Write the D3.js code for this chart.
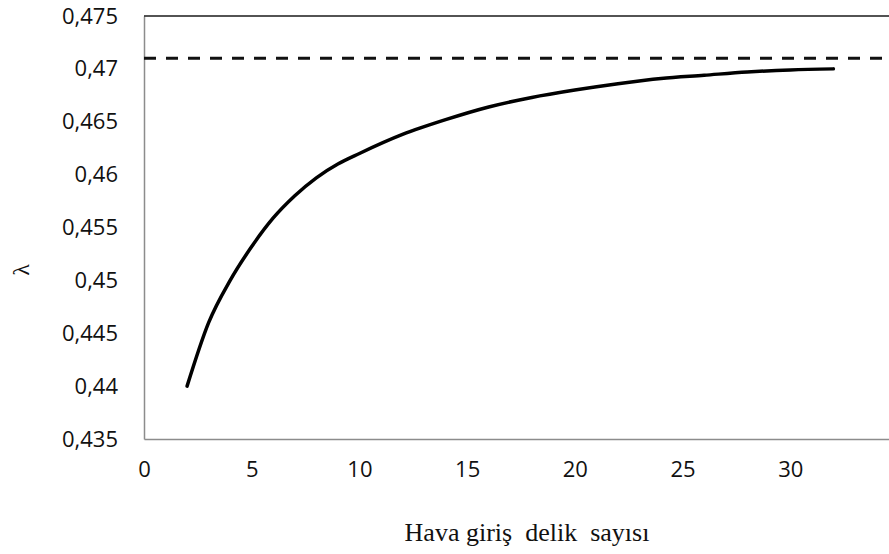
<!DOCTYPE html>
<html>
<head>
<meta charset="utf-8">
<script src="https://cdn.jsdelivr.net/npm/d3@7"></script>
<style>
  html, body { margin: 0; padding: 0; background: #fff; }
  svg { display: block; }
</style>
</head>
<body>
<svg id="chart" width="889" height="554"></svg>
<script>
// Number of air inlet holes vs. lambda
const holeCounts = [2, 3, 4, 5, 6, 7, 8, 9, 10, 12, 14, 16, 18, 20, 22, 24, 26, 28, 30, 32];
const lambdaValues = [0.4400, 0.4460, 0.4500, 0.4532, 0.4559, 0.4580, 0.4597, 0.4610, 0.4620,
                      0.4638, 0.4652, 0.4664, 0.4673, 0.4680, 0.4686, 0.4691, 0.4694, 0.4697,
                      0.4699, 0.4700];
const referenceLambda = 0.471;
const xTicks = [0, 5, 10, 15, 20, 25, 30];
const yTicks = [0.435, 0.44, 0.445, 0.45, 0.455, 0.46, 0.465, 0.47, 0.475];
const xTitle = "Hava giriş  delik  sayısı";
const yTitle = "λ";

const svg = d3.select("#chart");
const plotLeft = 144, plotTop = 16, plotBottom = 439, plotRight = 898;

const x = d3.scaleLinear().domain([0, 35]).range([plotLeft, plotRight]);
const y = d3.scaleLinear().domain([0.435, 0.475]).range([plotBottom, plotTop]);

const fmt = v => d3.format(".3~f")(v).replace(".", ",");

// Y axis
const yAxis = svg.append("g")
  .attr("transform", `translate(${plotLeft},0)`)
  .call(d3.axisLeft(y).tickValues(yTicks).tickSize(0).tickPadding(26).tickFormat(fmt));
yAxis.select(".domain").attr("stroke", "#8c8c8c").attr("stroke-width", 1.5);
yAxis.selectAll("text")
  .attr("font-family", "'Open Sans', sans-serif")
  .attr("font-size", 22)
  .attr("fill", "#111");

// X axis
const xAxis = svg.append("g")
  .attr("transform", `translate(0,${plotBottom})`)
  .call(d3.axisBottom(x).tickValues(xTicks).tickSize(0).tickPadding(22).tickFormat(d3.format("d")));
xAxis.select(".domain").attr("stroke", "#8c8c8c").attr("stroke-width", 1.5);
xAxis.selectAll("text")
  .attr("font-family", "'Open Sans', sans-serif")
  .attr("font-size", 22)
  .attr("fill", "#111");

// Top frame line
svg.append("line")
  .attr("x1", x(0)).attr("x2", x(35))
  .attr("y1", y(0.475)).attr("y2", y(0.475))
  .attr("stroke", "#1a1a1a").attr("stroke-width", 1.5);

// Reference level (dashed)
svg.append("line")
  .attr("x1", x(0)).attr("x2", x(35))
  .attr("y1", y(referenceLambda)).attr("y2", y(referenceLambda))
  .attr("stroke", "#111").attr("stroke-width", 3)
  .attr("stroke-dasharray", "12,10");

// Lambda curve
const pts = holeCounts.map((h, i) => [h, lambdaValues[i]]);
svg.append("path")
  .datum(pts)
  .attr("fill", "none")
  .attr("stroke", "#000")
  .attr("stroke-width", 3.5)
  .attr("stroke-linecap", "round")
  .attr("d", d3.line().x(d => x(d[0])).y(d => y(d[1])).curve(d3.curveMonotoneX));

// Axis titles
svg.append("text")
  .attr("x", 527).attr("y", 541)
  .attr("text-anchor", "middle")
  .attr("font-family", "'Liberation Serif', 'Times New Roman', serif")
  .attr("font-size", 26)
  .attr("fill", "#111")
  .style("white-space", "pre")
  .text(xTitle);

svg.append("text")
  .attr("transform", "translate(29,270) rotate(-90)")
  .attr("text-anchor", "middle")
  .attr("font-family", "'Liberation Serif', 'Times New Roman', serif")
  .attr("font-size", 24)
  .attr("fill", "#111")
  .text(yTitle);
</script>
</body>
</html>
